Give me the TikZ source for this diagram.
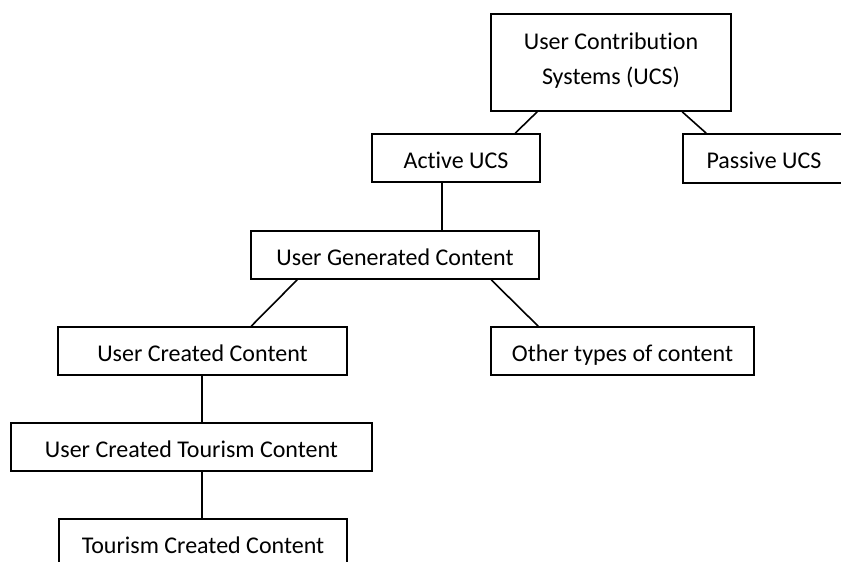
\documentclass[tikz,border=0pt]{standalone}
\usepackage{fontspec}
\setmainfont[Ligatures=NoCommon]{Carlito}
\begin{document}
\begin{tikzpicture}[x=1pt,y=-1pt,
  box/.style={draw=black,line width=1.6pt,rectangle,inner sep=0pt,
    font=\fontsize{24}{29}\selectfont,text=black,text height=26pt,text depth=6pt},
  link/.style={draw=black,line width=1.6pt}]
\clip (0,0) rectangle (841,562);
\node[box,minimum width=240,minimum height=97,align=center,text height=50pt,text depth=7pt,
  font=\fontsize{24}{35}\selectfont] (ucs) at (611,62.5) {User Contribution\\Systems (UCS)};
\node[box,minimum width=168,minimum height=48] (active) at (456,158) {Active UCS};
\node[box,minimum width=162,minimum height=49] (passive) at (764,158.5) {Passive UCS};
\node[box,minimum width=288,minimum height=48] (ugc) at (395,255) {User Generated Content};
\node[box,minimum width=289,minimum height=48] (ucc) at (202.5,351) {User Created Content};
\node[box,minimum width=263,minimum height=48] (other) at (622.5,351) {Other types of content};
\node[box,minimum width=361,minimum height=48] (uctc) at (191.5,447) {User Created Tourism Content};
\node[box,minimum width=288,minimum height=48] (tcc) at (203,543) {Tourism Created Content};
\draw[link] ([xshift=47]ucs.south west) -- ([xshift=144]active.north west);
\draw[link] ([xshift=192]ucs.south west) -- ([xshift=24]passive.north west);
\draw[link] ([xshift=71]active.south west) -- ([xshift=192]ugc.north west);
\draw[link] ([xshift=47]ugc.south west) -- ([xshift=194]ucc.north west);
\draw[link] ([xshift=241]ugc.south west) -- ([xshift=48]other.north west);
\draw[link] ([xshift=145]ucc.south west) -- ([xshift=192]uctc.north west);
\draw[link] ([xshift=192]uctc.south west) -- ([xshift=144]tcc.north west);
\end{tikzpicture}
\end{document}
